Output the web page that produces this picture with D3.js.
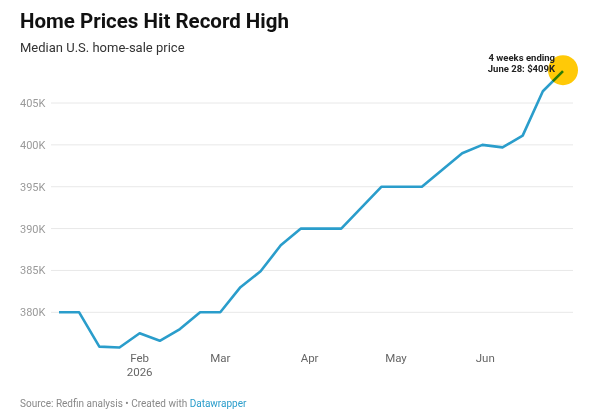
<!DOCTYPE html>
<html><head><meta charset="utf-8">
<script src="https://cdn.jsdelivr.net/npm/d3@7"></script>
<style>
body{margin:0;background:#fff;}
svg{display:block;font-family:Roboto, "Noto Sans", sans-serif;}
</style></head>
<body>
<svg id="c" width="612" height="416"></svg>
<script>
const weekEnding = ["2026-01-04","2026-01-11","2026-01-18","2026-01-25","2026-02-01","2026-02-08","2026-02-15","2026-02-22","2026-03-01","2026-03-08","2026-03-15","2026-03-22","2026-03-29","2026-04-05","2026-04-12","2026-04-19","2026-04-26","2026-05-03","2026-05-10","2026-05-17","2026-05-24","2026-05-31","2026-06-07","2026-06-14","2026-06-21","2026-06-28"];
const medianPriceK = [380,380,375.9,375.8,377.5,376.6,378.0,380,380,383,384.9,388,390,390,390,392.5,395,395,395,397,399,400,399.7,401.1,406.4,408.8];
const yTicks = [380,385,390,395,400,405];
const xTicks = ["2026-02-01","2026-03-01","2026-04-01","2026-05-01","2026-06-01"];
const xTickLabels = ["Feb","Mar","Apr","May","Jun"];
const annotationLines = ["4 weeks ending","June 28: $409K"];

const parse = d3.utcParse("%Y-%m-%d");
const data = weekEnding.map((d,i)=>({date:parse(d), v:medianPriceK[i]}));
const svg = d3.select("#c");

const x = d3.scaleUtc().domain(d3.extent(data,d=>d.date)).range([59,563]);
const y = d3.scaleLinear().domain([380,405]).range([312.3,103]);

// title
svg.append("text").attr("x",20).attr("y",28).attr("font-size",20.5).attr("font-weight",700).attr("fill","#111").text("Home Prices Hit Record High");
svg.append("text").attr("x",20).attr("y",52).attr("font-size",13).attr("fill","#333").text("Median U.S. home-sale price");

// y axis grid
const gy = svg.append("g");
gy.selectAll("line").data(yTicks).join("line")
  .attr("x1",51).attr("x2",573).attr("y1",d=>y(d)).attr("y2",d=>y(d))
  .attr("stroke","#e8e8e8").attr("stroke-width",1);
gy.selectAll("text").data(yTicks).join("text")
  .attr("x",20).attr("y",d=>y(d)+4).attr("font-size",11).attr("fill","#9a9a9a")
  .text(d=>d+"K");

// x axis labels
const gx = svg.append("g");
gx.selectAll("text").data(xTicks).join("text")
  .attr("x",d=>x(parse(d))).attr("y",362).attr("text-anchor","middle")
  .attr("font-size",11.5).attr("fill","#666").text((d,i)=>xTickLabels[i]);
svg.append("text").attr("x",x(parse(xTicks[0]))).attr("y",376).attr("text-anchor","middle")
  .attr("font-size",11.5).attr("fill","#666").text("2026");

// line
const line = d3.line().x(d=>x(d.date)).y(d=>y(d.v));
svg.append("path").datum(data).attr("d",line).attr("fill","none")
  .attr("stroke","#2a9dcb").attr("stroke-width",2.6).attr("stroke-linejoin","round");

// highlight circle
const last = data[data.length-1];
svg.append("circle").attr("cx",x(last.date)).attr("cy",y(last.v)-1).attr("r",15)
  .attr("fill","#ffc907").style("mix-blend-mode","multiply");

// annotation
const ann = svg.append("text").attr("x",555).attr("y",61).attr("text-anchor","end")
  .attr("font-size",9.5).attr("font-weight",700).attr("fill","#222");
annotationLines.forEach((t,i)=>ann.append("tspan").attr("x",555).attr("dy",i?11:0).text(t));

// footer
const f = svg.append("text").attr("x",20).attr("y",407).attr("font-size",10).attr("fill","#888");
f.append("tspan").text("Source: Redfin analysis • Created with ");
f.append("tspan").attr("fill","#2a9dcb").text("Datawrapper");
</script>
</body></html>
